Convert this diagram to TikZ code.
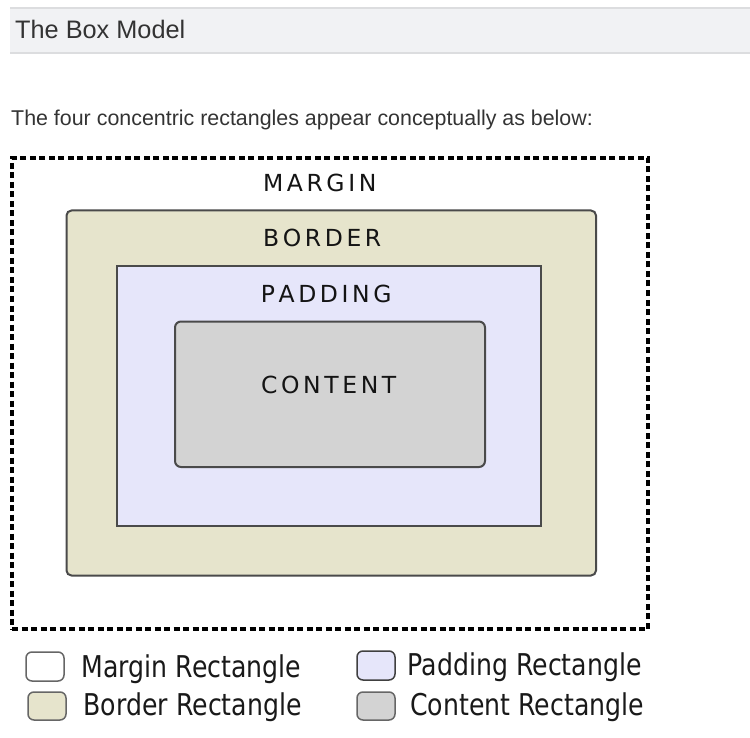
\documentclass[tikz,border=0pt]{standalone}
\usepackage{fontspec}
\setmainfont{Liberation Sans}
\newfontfamily\boxfont{DejaVu Sans}
\newfontfamily\legendfont[FakeStretch=0.84]{DejaVu Sans}
\usepackage{tikz}
\usetikzlibrary{positioning}
\usepackage{xcolor}

\definecolor{headfill}{HTML}{F1F2F4}
\definecolor{headline}{HTML}{DCDDDF}
\definecolor{inktext}{HTML}{333333}
\definecolor{borderfill}{HTML}{E6E4CC}
\definecolor{paddingfill}{HTML}{E6E6FA}
\definecolor{contentfill}{HTML}{D3D3D3}
\definecolor{edge}{HTML}{4A4A4A}

\newlength\lettergap
\setlength\lettergap{3.6pt}
\def\letterspread#1{\letterspreadaux#1\relax}
\def\letterspreadaux#1{\ifx\relax#1\hspace{-\lettergap}\else#1\hspace{\lettergap}\expandafter\letterspreadaux\fi}

\begin{document}
\begin{tikzpicture}[x=1pt, y=-1pt,
        boxrect/.style={draw=edge, line width=2pt, rectangle, inner sep=0pt, outer sep=0pt},
        caplabel/.style={anchor=base, inner sep=0pt, text=black!92, font=\boxfont\fontsize{23.5}{28}\selectfont},
        swatch/.style={draw=black!60, line width=1.5pt, rectangle, rounded corners=6pt, minimum width=38pt, minimum height=29pt, inner sep=0pt},
        legendtext/.style={anchor=base west, inner sep=0pt, text=black!90, font=\legendfont\fontsize{30}{36}\selectfont}
    ]
    \useasboundingbox (0,0) rectangle (750,738);

    % heading bar
    \fill[headfill] (10,8) rectangle (750,53);
    \draw[headline, line width=1.5pt] (10,8) -- (750,8) (10,53) -- (750,53);
    \node[anchor=base west, inner sep=0pt, text=inktext, font=\fontsize{25.3}{30}\selectfont] (title) at (15,39) {The Box Model};
    \node[anchor=base west, inner sep=0pt, text=inktext, font=\fontsize{21.4}{26}\selectfont] (intro) at (11,126) {The four concentric rectangles appear conceptually as below:};

    % the four rectangles
    \node[draw=black, line width=3.5pt, dash pattern=on 6pt off 3.5pt, rectangle, inner sep=0pt, minimum width=636pt, minimum height=471pt] (margin) at (330,393.5) {};
    \node[boxrect, fill=borderfill, rounded corners=5pt, minimum width=529.5pt, minimum height=365pt] (border) at (331.25,393) {};
    \node[boxrect, fill=paddingfill, minimum width=424pt, minimum height=259.5pt] (padding) at (329,395.75) {};
    \node[boxrect, fill=contentfill, rounded corners=6pt, minimum width=310pt, minimum height=145.5pt] (content) at (330,394.25) {};

    \node[caplabel] (marginlabel) at (321.5,192) {\letterspread{MARGIN}};
    \node[caplabel] (borderlabel) at (324,247) {\letterspread{BORDER}};
    \node[caplabel] (paddinglabel) at (328,302) {\letterspread{PADDING}};
    \node[caplabel] (contentlabel) at (330.5,393) {\letterspread{CONTENT}};

    % legend
    \node[swatch, fill=white] (marginkey) at (45,666.5) {};
    \node[swatch, fill=borderfill, minimum height=28pt] (borderkey) at (47,706) {};
    \node[swatch, fill=paddingfill, draw=black!75] (paddingkey) at (376,665.5) {};
    \node[swatch, fill=contentfill, minimum height=28pt] (contentkey) at (376,706) {};

    \node[legendtext] (margintext) at (81.5,677) {Margin Rectangle};
    \node[legendtext] (bordertext) at (83.5,715.5) {Border Rectangle};
    \node[legendtext] (paddingtext) at (407.5,675) {Padding Rectangle};
    \node[legendtext] (contenttext) at (410,715) {Content Rectangle};
\end{tikzpicture}
\end{document}
